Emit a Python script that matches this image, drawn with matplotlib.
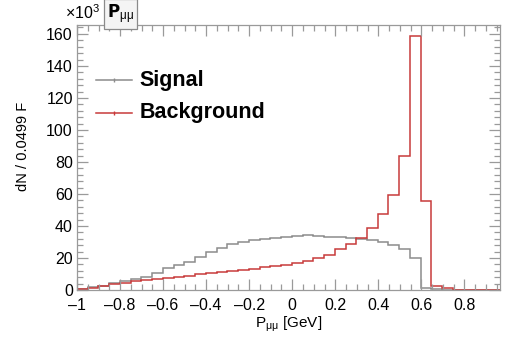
import numpy as np
import matplotlib.pyplot as plt
from matplotlib.ticker import MultipleLocator, FuncFormatter

plt.rcParams["font.family"] = ["Liberation Sans", "DejaVu Sans"]

# ---------------------------------------------------
# Histogram contents (in units of 10^3 entries per bin)
# ---------------------------------------------------

bin_width = 0.0499
x_low = -1.0
n_bins = 40

signal = [
    0.6, 1.9, 2.8, 4.4, 5.6, 6.9, 8.0, 10.6, 13.7, 15.6,
    17.7, 20.8, 23.5, 26.5, 28.5, 30.0, 31.0, 32.0, 32.5, 33.2,
    33.5, 34.6, 33.8, 33.4, 33.0, 32.6, 32.0, 31.2, 29.8, 28.0,
    25.5, 20.0, 1.5, 0.5, 0.2, 0.0, 0.0, 0.0, 0.0, 0.0,
]

background = [
    0.5, 1.5, 2.5, 3.5, 4.6, 5.5, 6.3, 7.0, 7.8, 8.4,
    9.0, 9.8, 10.4, 11.0, 11.8, 12.6, 13.4, 14.2, 15.0, 15.6,
    16.7, 18.1, 20.2, 21.9, 25.4, 28.5, 32.7, 38.5, 47.3, 59.6,
    84.0, 159.0, 55.8, 2.7, 1.0, 0.3, 0.0, 0.0, 0.0, 0.0,
]

x_ticks = [-1.0, -0.8, -0.6, -0.4, -0.2, 0.0, 0.2, 0.4, 0.6, 0.8]
y_ticks = [0, 20, 40, 60, 80, 100, 120, 140, 160]

edges = x_low + bin_width * np.arange(n_bins + 1)

# ---------------------------------------------------
# Plot
# ---------------------------------------------------

sig_color = "#8c8c8c"
bkg_color = "#c83a3a"
frame_color = "#9a9a9a"

fig = plt.figure(figsize=(5.05, 3.37), dpi=100)
ax = fig.add_axes([0.1525, 0.1395, 0.8375, 0.7865])

ax.stairs(signal, edges, color=sig_color, linewidth=1.1, label="Signal")
ax.stairs(background, edges, color=bkg_color, linewidth=1.1,
          label="Background")

ax.set_xlim(-1.0, 0.965)
ax.set_ylim(0, 165.6)

ax.set_xticks(x_ticks)
ax.set_yticks(y_ticks)
ax.xaxis.set_minor_locator(MultipleLocator(0.05))
ax.yaxis.set_minor_locator(MultipleLocator(4))


def fmt_x(v, pos):
    if abs(v) < 1e-9:
        return "0"
    s = f"{v:g}"
    return s.replace("-", "\u2013")


ax.xaxis.set_major_formatter(FuncFormatter(fmt_x))

for spine in ax.spines.values():
    spine.set_color(frame_color)
    spine.set_linewidth(0.9)

ax.tick_params(which="both", direction="in", top=True, right=True,
               color=frame_color, labelsize=11.5, width=0.9)
ax.tick_params(axis="x", which="major", length=8, pad=6)
ax.tick_params(axis="y", which="major", length=8, pad=3)
ax.tick_params(which="minor", length=4)

ax.set_xlabel(r"$\mathregular{P_{μμ}}$ [GeV]", fontsize=11)
ax.xaxis.set_label_coords(0.5, -0.095)
ax.set_ylabel("dN / 0.0499 F", fontsize=10.5)
ax.yaxis.set_label_coords(-0.112, 0.54)

# legend drawn by hand (line + small marker, big bold labels)
for y_leg, col, name in [(0.792, sig_color, "Signal"),
                         (0.668, bkg_color, "Background")]:
    ax.plot([0.045, 0.13], [y_leg, y_leg], transform=ax.transAxes,
            color=col, linewidth=1.1)
    ax.plot([0.0875], [y_leg], transform=ax.transAxes, marker="|",
            markersize=3, color=col)
    ax.text(0.148, y_leg, name, transform=ax.transAxes, fontsize=15.5,
            fontweight="bold", va="center", ha="left")

# exponent and title box
fig.text(0.198, 0.962, r"$\mathregular{\times10^3}$", fontsize=11.5,
         ha="right", va="center")
fig.text(0.212, 0.958, r"$\mathbf{P}\mathregular{_{μμ}}$", fontsize=12,
         ha="left", va="center",
         bbox=dict(boxstyle="square,pad=0.2", facecolor="#f4f4f4",
                   edgecolor="#8a8a8a", linewidth=0.9))

fig.savefig("out.png", dpi=100)
